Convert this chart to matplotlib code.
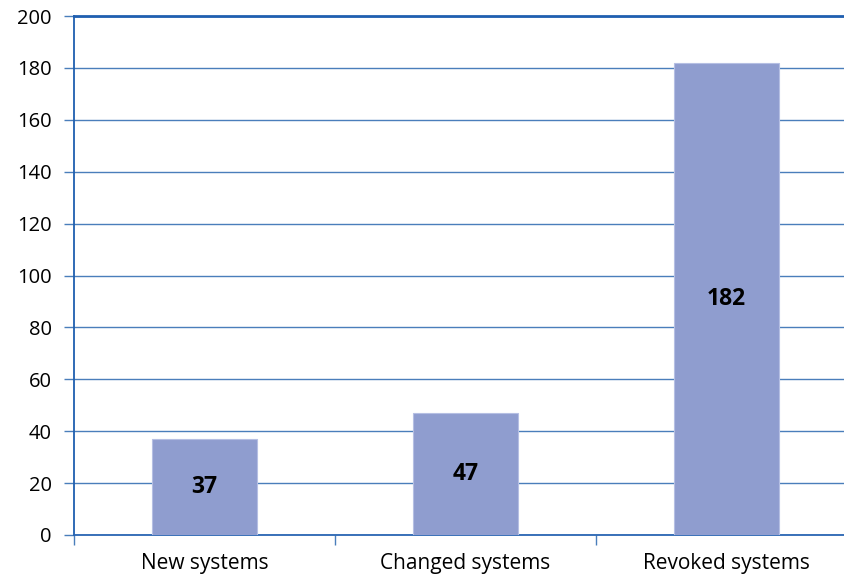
import matplotlib
matplotlib.use("Agg")
import matplotlib.pyplot as plt

categories = ["New systems", "Changed systems", "Revoked systems"]
values = [37, 47, 182]
yticks = [0, 20, 40, 60, 80, 100, 120, 140, 160, 180, 200]

plt.rcParams["font.family"] = ["Open Sans", "DejaVu Sans"]

fig = plt.figure(figsize=(8.44, 5.79), dpi=100)
ax = fig.add_axes([74 / 844, 1 - 535 / 579, 783 / 844, 519 / 579])

x = list(range(len(categories)))
ax.bar(x, values, width=0.4, color="#8f9dcf", edgecolor="#b5bfe3", linewidth=0.8, zorder=3)
for xi, v in zip(x, values):
    ax.text(xi, v / 2, str(v), ha="center", va="center", fontsize=16.5,
            fontweight="bold", color="black", zorder=4)

ax.set_xlim(-0.5, len(categories) - 0.5)
ax.set_ylim(0, 200)
ax.set_yticks(yticks)
ax.set_yticklabels([str(t) for t in yticks], fontsize=14.5)
ax.set_xticks(x)
ax.set_xticklabels(categories, fontsize=15)
ax.tick_params(axis="x", length=0, pad=13)
ax.set_xticks([i + 0.5 for i in range(-1, len(categories))], minor=True)
ax.tick_params(axis="x", which="minor", length=7, color="#4a7ebb", width=1)
ax.tick_params(axis="y", length=7, color="#4a7ebb", width=1, pad=9)

ax.grid(axis="y", color="#4a7ebb", linewidth=1, zorder=1)
for s in ["top", "right"]:
    ax.spines[s].set_visible(False)
ax.spines["left"].set_color("#1f5fb0")
ax.spines["left"].set_linewidth(1.3)
ax.spines["bottom"].set_color("#2a66b3")
ax.spines["bottom"].set_linewidth(1.3)
ax.axhline(200, color="#1f5fb0", linewidth=2, zorder=2, clip_on=False)

fig.savefig("out.png", dpi=100)
